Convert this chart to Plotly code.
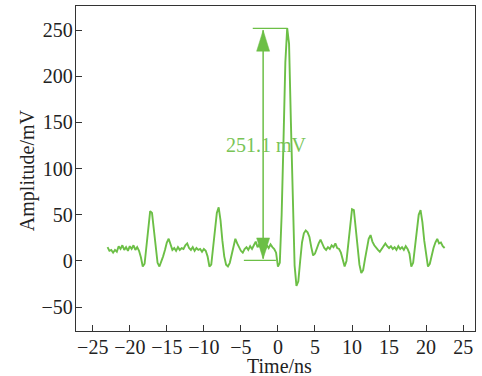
import plotly.graph_objects as go

# ---- data ----
time_ns = [
    -23.00, -22.75, -22.50, -22.25, -22.00, -21.75, -21.50, -21.25, -21.00, -20.75,
    -20.50, -20.25, -20.00, -19.75, -19.50, -19.25, -19.00, -18.75, -18.50, -18.25,
    -18.00, -17.75, -17.50, -17.25, -17.00, -16.75, -16.50, -16.25, -16.00, -15.75,
    -15.50, -15.25, -15.00, -14.75, -14.50, -14.25, -14.00, -13.75, -13.50, -13.25,
    -13.00, -12.75, -12.50, -12.25, -12.00, -11.75, -11.50, -11.25, -11.00, -10.75,
    -10.50, -10.25, -10.00, -9.75, -9.50, -9.25, -9.00, -8.75, -8.50, -8.25,
    -8.00, -7.75, -7.50, -7.25, -7.00, -6.75, -6.50, -6.25, -6.00, -5.75,
    -5.50, -5.25, -5.00, -4.75, -4.50, -4.25, -4.00, -3.75, -3.50, -3.25,
    -3.00, -2.75, -2.50, -2.25, -2.00, -1.75, -1.50, -1.25, -1.00, -0.75,
    -0.50, -0.25, 0.00, 0.25, 0.50, 0.75, 1.00, 1.25, 1.50, 1.75,
    2.00, 2.25, 2.50, 2.75, 3.00, 3.25, 3.50, 3.75, 4.00, 4.25,
    4.50, 4.75, 5.00, 5.25, 5.50, 5.75, 6.00, 6.25, 6.50, 6.75,
    7.00, 7.25, 7.50, 7.75, 8.00, 8.25, 8.50, 8.75, 9.00, 9.25,
    9.50, 9.75, 10.00, 10.25, 10.50, 10.75, 11.00, 11.25, 11.50, 11.75,
    12.00, 12.25, 12.50, 12.75, 13.00, 13.25, 13.50, 13.75, 14.00, 14.25,
    14.50, 14.75, 15.00, 15.25, 15.50, 15.75, 16.00, 16.25, 16.50, 16.75,
    17.00, 17.25, 17.50, 17.75, 18.00, 18.25, 18.50, 18.75, 19.00, 19.25,
    19.50, 19.75, 20.00, 20.25, 20.50, 20.75, 21.00, 21.25, 21.50, 21.75,
    22.00, 22.25, 22.50,
]
amplitude_mv = [
    15, 11, 12, 9, 12, 10, 16, 13, 17, 12,
    15, 11, 16, 13, 17, 12, 15, 11, 4, -6,
    -3, 18, 38, 54, 52, 32, 11, -2, -6, -1,
    5, 12, 20, 24, 17, 12, 14, 11, 15, 12,
    14, 13, 17, 19, 14, 12, 15, 11, 14, 12,
    13, 10, 13, 11, 5, -6, -4, 14, 36, 52,
    58, 44, 22, 5, -4, -6, -2, 6, 16, 24,
    19, 14, 11, 9, 13, 15, 12, 16, 13, 17,
    21, 15, 18, 13, 16, 12, 17, 14, 18, 15,
    13, 9, -6, -2, 50, 130, 215, 252, 235, 150,
    60, -5, -27, -22, 0, 20, 30, 33, 31, 26,
    15, 6, 8, 14, 19, 23, 18, 14, 12, 15,
    13, 17, 15, 19, 14, 13, 9, 2, -6, 0,
    20, 42, 56, 55, 36, 12, -4, -13, -10, 2,
    14, 24, 28, 21, 17, 14, 12, 10, 13, 15,
    19, 16, 14, 16, 13, 15, 12, 16, 13, 15,
    12, 16, 13, 8, -6, -2, 16, 36, 50, 55,
    42, 22, 5, -6, -3, 6, 14, 20, 24, 19,
    20, 16, 14,
]
x_ticks = [-25, -20, -15, -10, -5, 0, 5, 10, 15, 20, 25]
y_ticks = [-50, 0, 50, 100, 150, 200, 250]
x_title = "Time/ns"
y_title = "Amplitude/mV"

# measurement annotation
meas_label = "251.1 mV"
meas_low = 0.7
meas_high = 251.8
meas_t = -2.0
top_line_t = [-3.4, 1.3]
bot_line_t = [-4.6, -0.27]
label_pos = (-1.5, 125.5)

GREEN = "#6cbf46"
TEXT_GREEN = "#78c455"
FONT = "Liberation Serif, Times New Roman, serif"

fig = go.Figure()
fig.add_trace(go.Scatter(
    x=time_ns, y=amplitude_mv, mode="lines",
    line=dict(color=GREEN, width=1.9), showlegend=False, hoverinfo="skip",
))

shapes = [
    dict(type="line", xref="x", yref="y", x0=top_line_t[0], x1=top_line_t[1],
         y0=meas_high, y1=meas_high, line=dict(color=GREEN, width=1.4)),
    dict(type="line", xref="x", yref="y", x0=bot_line_t[0], x1=bot_line_t[1],
         y0=meas_low, y1=meas_low, line=dict(color=GREEN, width=1.4)),
    dict(type="line", xref="x", yref="y", x0=meas_t, x1=meas_t,
         y0=meas_low + 2, y1=meas_high - 2, line=dict(color=GREEN, width=1.5)),
    dict(type="path", xref="x", yref="y", xsizemode="pixel", ysizemode="pixel",
         xanchor=meas_t, yanchor=meas_high - 2,
         path="M -6.5 -21 L 6.5 -21 L 0 0 Z",
         fillcolor=GREEN, line=dict(color=GREEN, width=0.5)),
    dict(type="path", xref="x", yref="y", xsizemode="pixel", ysizemode="pixel",
         xanchor=meas_t, yanchor=meas_low + 1.5,
         path="M -6.5 21 L 6.5 21 L 0 0 Z",
         fillcolor=GREEN, line=dict(color=GREEN, width=0.5)),
]

fig.update_layout(
    width=482, height=376,
    margin=dict(l=76, r=7, t=6, b=45),
    paper_bgcolor="white", plot_bgcolor="white",
    font=dict(family=FONT, size=20, color="#222222"),
    shapes=shapes,
    annotations=[
        dict(x=label_pos[0], y=label_pos[1], xref="x", yref="y",
             text=meas_label, showarrow=False,
             font=dict(family=FONT, size=20, color=TEXT_GREEN)),
        dict(x=0.509, y=-0.108, xref="paper", yref="paper", text=x_title,
             showarrow=False, xanchor="center", yanchor="middle", borderpad=0,
             font=dict(family=FONT, size=20, color="#222222")),
        dict(x=-0.1228, y=0.495, xref="paper", yref="paper", text=y_title,
             showarrow=False, xanchor="center", yanchor="middle", textangle=-90,
             font=dict(family=FONT, size=20, color="#222222")),
    ],
)
fig.update_xaxes(
    range=[-27.26, 26.6], tickvals=x_ticks, ticks="inside", ticklen=6,
    tickwidth=1.2, tickcolor="#333333", showline=True, linecolor="#333333",
    linewidth=1.3, mirror=True, showgrid=False, zeroline=False, automargin=False,
    ticklabelstandoff=-2,
)
fig.update_yaxes(
    range=[-75.8, 276], tickvals=y_ticks, ticks="inside", ticklen=6,
    tickwidth=1.2, tickcolor="#333333", showline=True, linecolor="#333333",
    linewidth=1.3, mirror=True, showgrid=False, zeroline=False, automargin=False,
    ticklabelstandoff=-2,
)

fig.write_html("out.html", config={"displayModeBar": False},
               post_script="document.body.style.margin='0';")
